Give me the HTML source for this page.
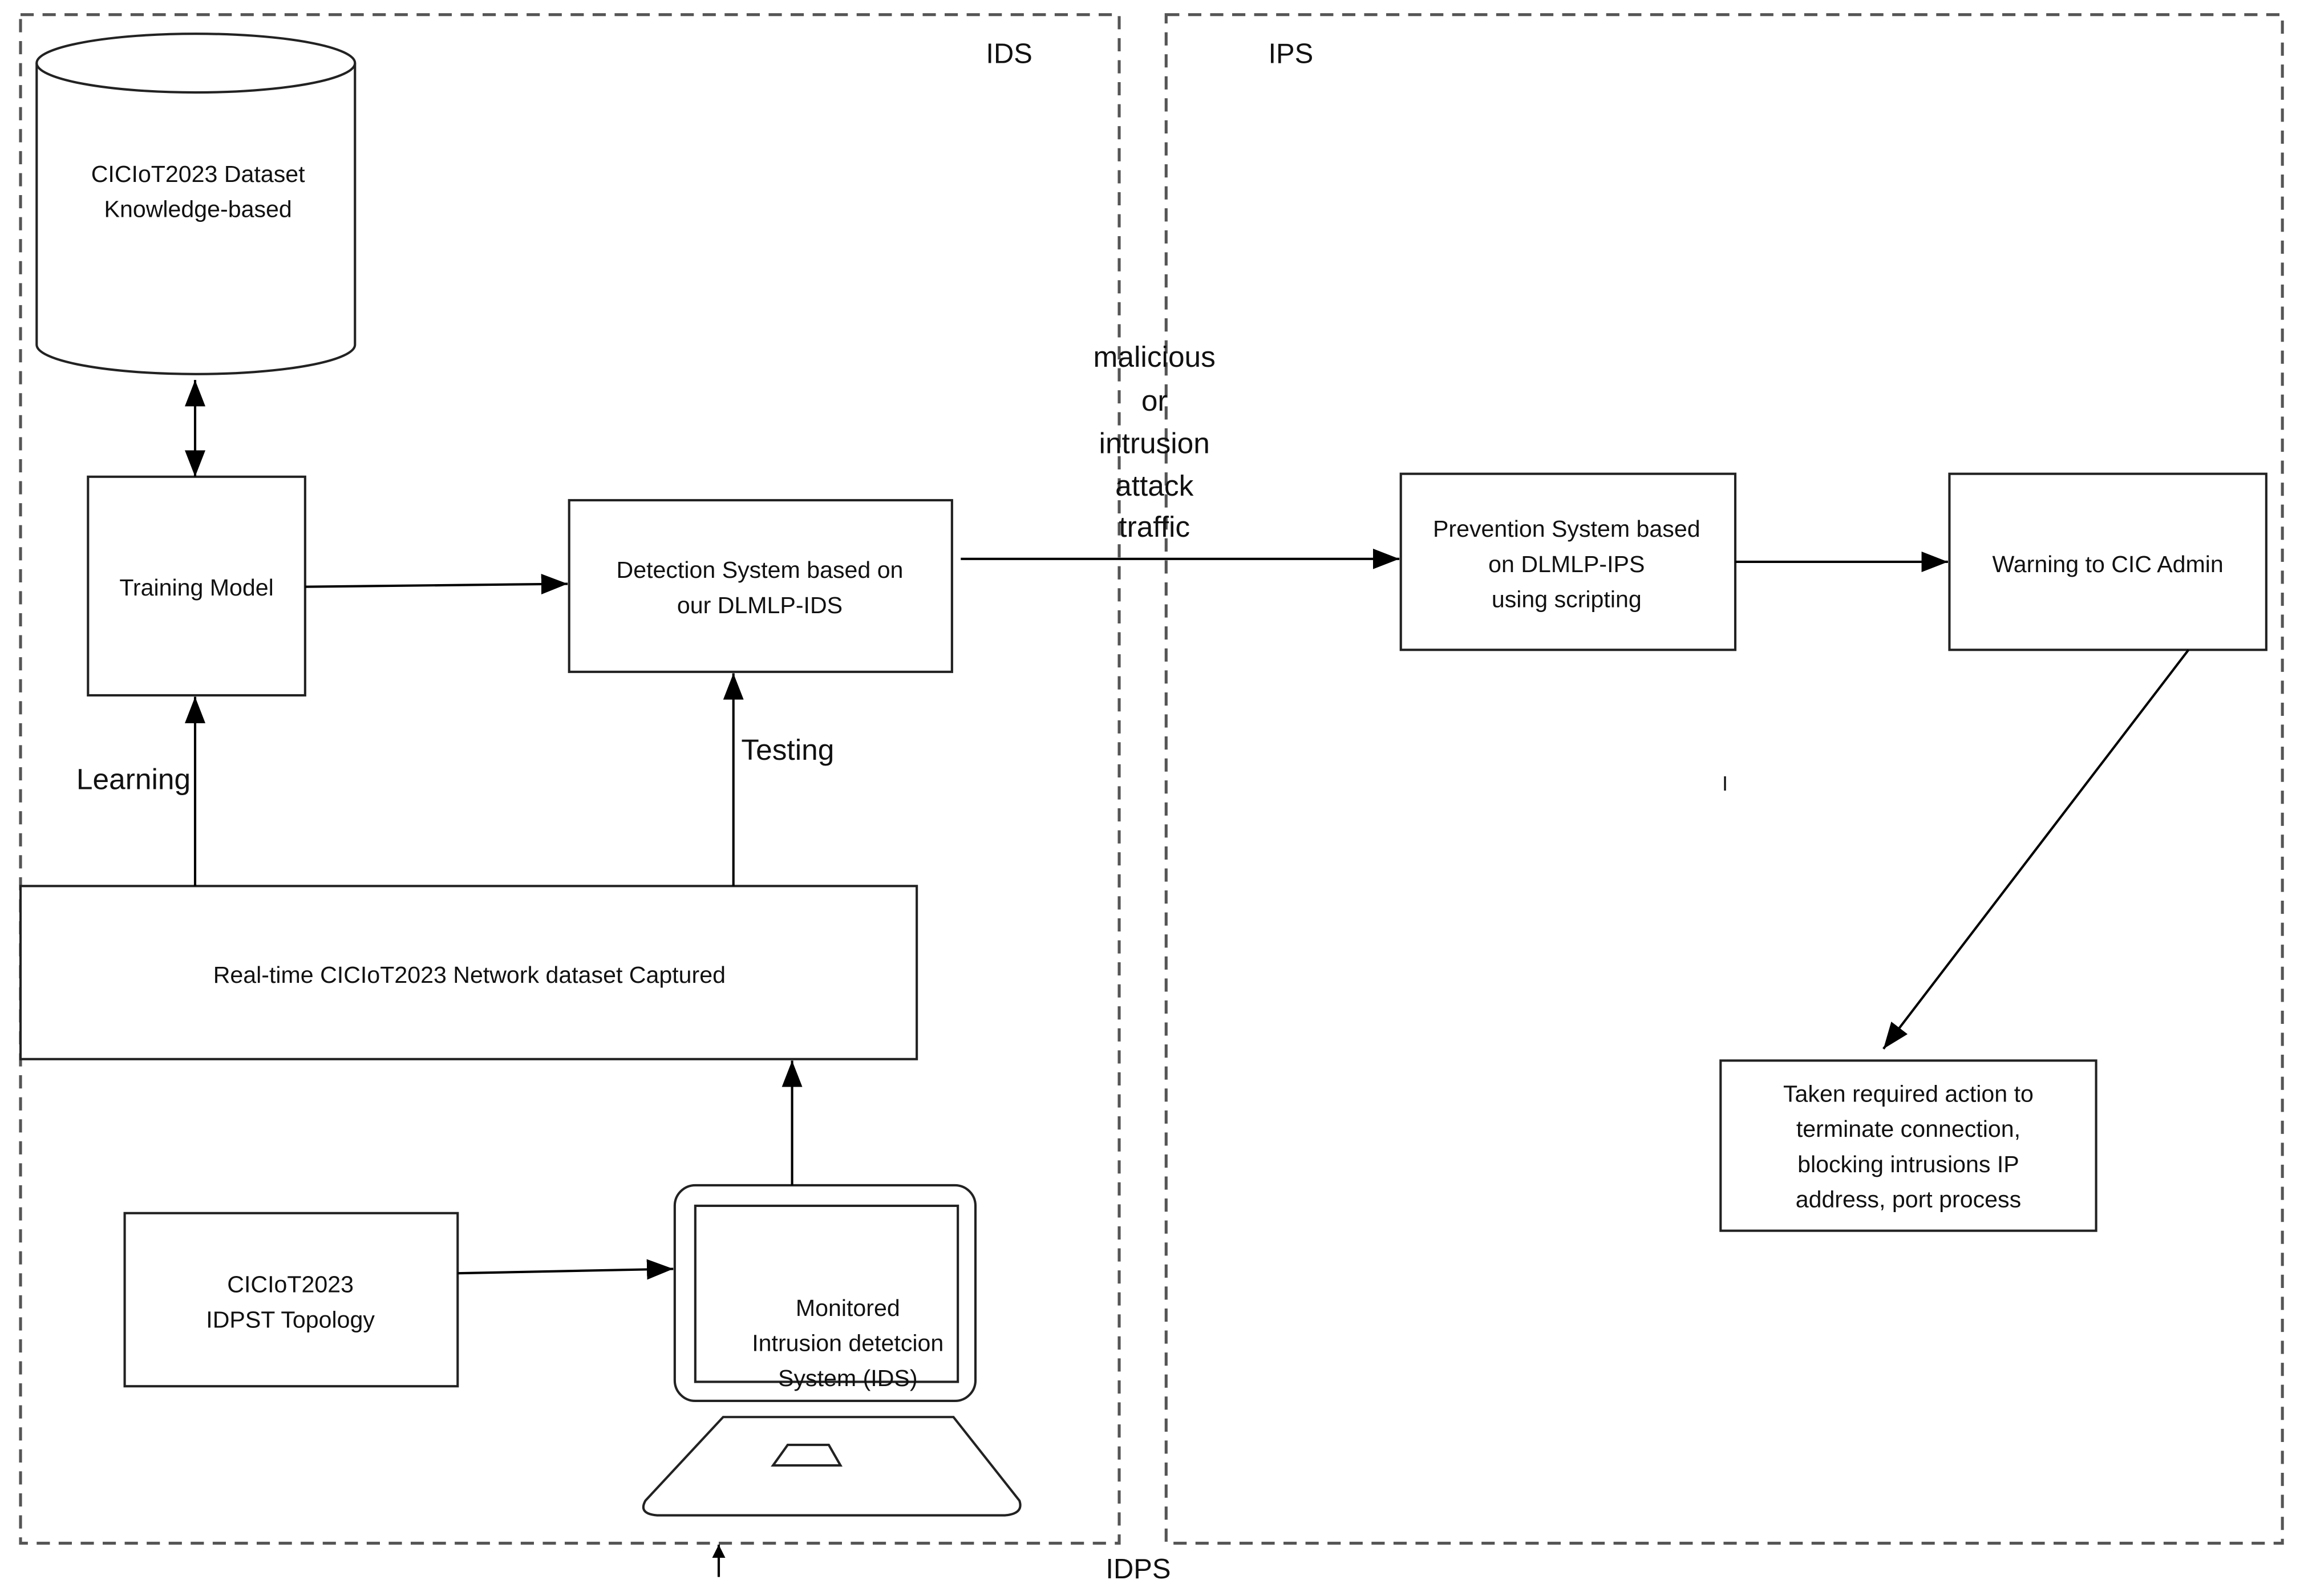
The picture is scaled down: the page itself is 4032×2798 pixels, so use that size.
<!DOCTYPE html>
<html><head><meta charset="utf-8"><style>
html,body{margin:0;padding:0;background:#fff;}
svg{display:block;}
text{font-family:"Liberation Sans",sans-serif;fill:#111;}
</style></head><body>
<svg width="4032" height="2798" viewBox="0 0 1568 1088" preserveAspectRatio="none" xmlns="http://www.w3.org/2000/svg">
<defs>
<marker id="a" viewBox="0 0 10 10" refX="10" refY="5" markerWidth="9" markerHeight="9" markerUnits="userSpaceOnUse" orient="auto-start-reverse"><path d="M0,0 L10,5 L0,10 z" fill="#000"/></marker>
<marker id="b" viewBox="0 0 10 10" refX="10" refY="5" markerWidth="18" markerHeight="14" markerUnits="userSpaceOnUse" orient="auto-start-reverse" preserveAspectRatio="none"><path d="M0,0 L10,5 L0,10 z" fill="#000"/></marker>
</defs>
<g fill="none" stroke="#555" stroke-width="2" stroke-dasharray="9,6">
<rect x="14" y="10" width="749" height="1042"/>
<rect x="795" y="10" width="761" height="1042"/>
</g>
<g font-size="19" text-anchor="middle">
<text x="688" y="43">IDS</text>
<text x="880" y="43">IPS</text>
<text x="776" y="1076">IDPS</text>
</g>
<g fill="#fff" stroke="#222" stroke-width="1.6">
<path d="M25,43 L25,235 A108.5,20 0 0 0 242,235 L242,43"/>
<ellipse cx="133.5" cy="43" rx="108.5" ry="20"/>
<rect x="60" y="325" width="148" height="149"/>
<rect x="388" y="341" width="261" height="117"/>
<rect x="955" y="323" width="228" height="120"/>
<rect x="1329" y="323" width="216" height="120"/>
<rect x="1173" y="723" width="256" height="116"/>
<rect x="14" y="604" width="611" height="118"/>
<rect x="85" y="827" width="227" height="118"/>
<rect x="460" y="808" width="205" height="147" rx="14"/>
<rect x="474" y="822" width="179" height="120"/>
<path d="M493,966 L650,966 L695,1023 Q698,1032 685,1033 L448,1033 Q435,1032 440,1023 Z"/>
<path d="M537,985 L565,985 L573,999 L527,999 Z"/>
</g>
<g stroke="#000" stroke-width="1.6" fill="none">
<line x1="133" y1="259" x2="133" y2="325" marker-start="url(#b)" marker-end="url(#b)"/>
<line x1="208" y1="400" x2="387" y2="398" marker-end="url(#b)"/>
<line x1="655" y1="381" x2="954" y2="381" marker-end="url(#b)"/>
<line x1="1183" y1="383" x2="1328" y2="383" marker-end="url(#b)"/>
<line x1="1492" y1="443" x2="1284" y2="715" marker-end="url(#b)"/>
<line x1="133" y1="604" x2="133" y2="475" marker-end="url(#b)"/>
<line x1="500" y1="604" x2="500" y2="459" marker-end="url(#b)"/>
<line x1="540" y1="808" x2="540" y2="723" marker-end="url(#b)"/>
<line x1="312" y1="868" x2="459" y2="865" marker-end="url(#b)"/>
<line x1="490" y1="1075" x2="490" y2="1053" marker-end="url(#a)"/>
</g>
<g font-size="16" text-anchor="middle">
<text x="135" y="124">CICIoT2023  Dataset</text>
<text x="135" y="148">Knowledge-based</text>
<text x="134" y="406">Training Model</text>
<text x="518" y="394">Detection System based on</text>
<text x="518" y="418">our DLMLP-IDS</text>
<text x="1068" y="366">Prevention System based</text>
<text x="1068" y="390">on DLMLP-IPS</text>
<text x="1068" y="414">using scripting</text>
<text x="1437" y="390">Warning to CIC Admin</text>
<text x="1301" y="751">Taken required action to</text>
<text x="1301" y="775">terminate connection,</text>
<text x="1301" y="799">blocking intrusions IP</text>
<text x="1301" y="823">address, port process</text>
<text x="320" y="670">Real-time CICIoT2023 Network dataset Captured</text>
<text x="198" y="881">CICIoT2023</text>
<text x="198" y="905">IDPST  Topology</text>
<text x="578" y="897">Monitored</text>
<text x="578" y="921">Intrusion detetcion</text>
<text x="578" y="945">System (IDS)</text>
<text x="1176" y="539" font-size="14">I</text>
</g>
<g font-size="20" text-anchor="middle">
<text x="787" y="250">malicious</text>
<text x="787" y="280">or</text>
<text x="787" y="309">intrusion</text>
<text x="787" y="338">attack</text>
<text x="787" y="366">traffic</text>
<text x="91" y="538">Learning</text>
<text x="537" y="518">Testing</text>
</g>
</svg>
</body></html>
